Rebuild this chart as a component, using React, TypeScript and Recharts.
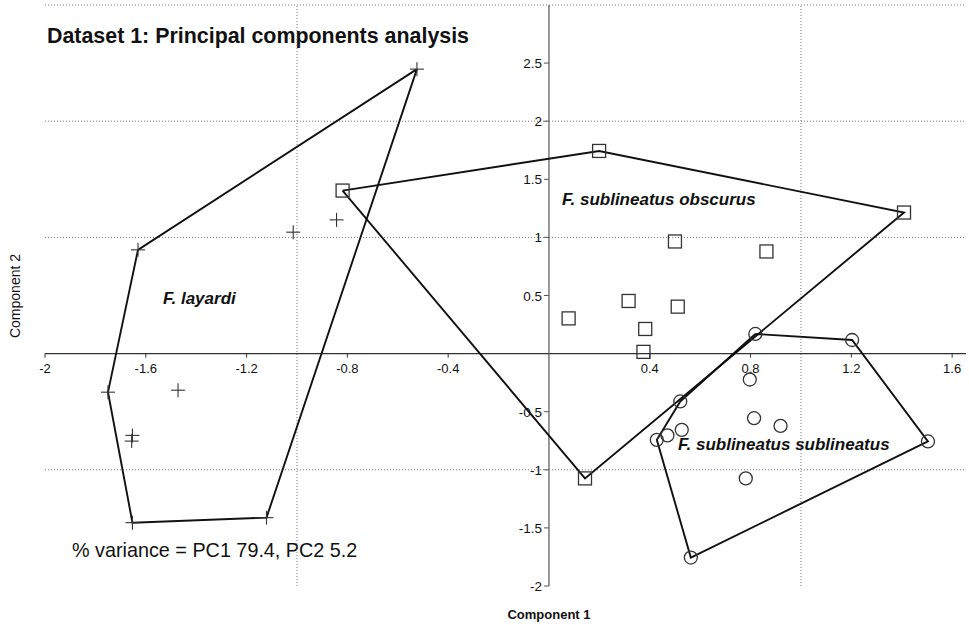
import React from 'react';
import { ScatterChart, Scatter, XAxis, YAxis, ReferenceLine, ReferenceDot, Customized } from 'recharts';

// ---- data ----
const layardiPoints = [
  { x: -0.524, y: 2.448 },
  { x: -1.631, y: 0.893 },
  { x: -1.015, y: 1.045 },
  { x: -0.843, y: 1.151 },
  { x: -1.75, y: -0.332 },
  { x: -1.472, y: -0.315 },
  { x: -1.653, y: -0.704 },
  { x: -1.656, y: -0.753 },
  { x: -1.653, y: -1.455 },
  { x: -1.121, y: -1.412 },
];
const layardiHull = [
  { x: -0.524, y: 2.448 },
  { x: -1.631, y: 0.893 },
  { x: -1.75, y: -0.332 },
  { x: -1.653, y: -1.455 },
  { x: -1.121, y: -1.412 },
  { x: -0.524, y: 2.448 },
];

const obscurusPoints = [
  { x: -0.819, y: 1.403 },
  { x: 0.199, y: 1.744 },
  { x: 1.409, y: 1.214 },
  { x: 0.5, y: 0.965 },
  { x: 0.863, y: 0.879 },
  { x: 0.316, y: 0.453 },
  { x: 0.511, y: 0.404 },
  { x: 0.078, y: 0.303 },
  { x: 0.382, y: 0.212 },
  { x: 0.375, y: 0.015 },
  { x: 0.143, y: -1.074 },
];
const obscurusHull = [
  { x: -0.819, y: 1.403 },
  { x: 0.199, y: 1.744 },
  { x: 1.409, y: 1.214 },
  { x: 0.143, y: -1.074 },
  { x: -0.819, y: 1.403 },
];

const sublineatusPoints = [
  { x: 0.819, y: 0.169 },
  { x: 1.203, y: 0.117 },
  { x: 0.797, y: -0.223 },
  { x: 0.521, y: -0.412 },
  { x: 0.814, y: -0.556 },
  { x: 0.919, y: -0.622 },
  { x: 0.527, y: -0.656 },
  { x: 0.47, y: -0.704 },
  { x: 0.428, y: -0.742 },
  { x: 1.504, y: -0.756 },
  { x: 0.781, y: -1.074 },
  { x: 0.563, y: -1.755 },
];
const sublineatusHull = [
  { x: 0.819, y: 0.169 },
  { x: 1.203, y: 0.117 },
  { x: 1.504, y: -0.756 },
  { x: 0.563, y: -1.755 },
  { x: 0.428, y: -0.742 },
  { x: 0.521, y: -0.412 },
  { x: 0.819, y: 0.169 },
];

const xTicks = [-2, -1.6, -1.2, -0.8, -0.4, 0.4, 0.8, 1.2, 1.6];
const xTickLabels = ['-2', '-1.6', '-1.2', '-0.8', '-0.4', '0.4', '0.8', '1.2', '1.6'];
const yTicks = [-2, -1.5, -1, -0.5, 0.5, 1, 1.5, 2, 2.5];
const yTickLabels = ['-2', '-1.5', '-1', '-0.5', '0.5', '1', '1.5', '2', '2.5'];
const hGrid = [3, 2, 1, -1];
const vGrid = [-1, 1];

const titleText = 'Dataset 1: Principal components analysis';
const varianceText = '% variance = PC1 79.4, PC2 5.2';
const xTitle = 'Component 1';
const yTitle = 'Component 2';
const groupLabels = ['F. layardi', 'F. sublineatus obscurus', 'F. sublineatus sublineatus'];

const W = 969;
const H = 625;
const FONT = '"Liberation Sans", Arial, Helvetica, sans-serif';
const MARK = '#333';
const HULL = '#111';

const Cross = (p: any) => (
  <g stroke={MARK} strokeWidth={1.1}>
    <line x1={p.cx - 7} y1={p.cy} x2={p.cx + 7} y2={p.cy} />
    <line x1={p.cx} y1={p.cy - 7} x2={p.cx} y2={p.cy + 7} />
  </g>
);
const Square = (p: any) => (
  <rect x={p.cx - 6.5} y={p.cy - 6.5} width={13} height={13} fill="none" stroke={MARK} strokeWidth={1.3} />
);
const Circle = (p: any) => <circle cx={p.cx} cy={p.cy} r={6.5} fill="none" stroke={MARK} strokeWidth={1.3} />;
const NoShape = () => <g />;

const Annotations = () => (
  <g fontFamily={FONT}>
    <text x={47} y={42.5} fontSize={21.4} fontWeight="bold" fill="#111">{titleText}</text>
    <text x={72} y={556.5} fontSize={19.8} fill="#111">{varianceText}</text>
    <text x={163} y={304} fontSize={17} fontWeight="bold" fontStyle="italic" fill="#111">{groupLabels[0]}</text>
    <text x={562} y={204.5} fontSize={17} fontWeight="bold" fontStyle="italic" fill="#111">{groupLabels[1]}</text>
    <text x={678} y={450} fontSize={17} fontWeight="bold" fontStyle="italic" fill="#111">{groupLabels[2]}</text>
    <text x={549} y={618.5} fontSize={13} fontWeight="bold" textAnchor="middle" fill="#111">{xTitle}</text>
    <text x={20} y={296} fontSize={14} textAnchor="middle" fill="#111" transform="rotate(-90, 20, 296)">{yTitle}</text>
  </g>
);

export default function App() {
  return (
    <div style={{ position: 'absolute', left: 0, top: 0, width: W, height: H, background: '#fff' }}>
      <ScatterChart width={W} height={H} margin={{ top: 5, right: 3, bottom: 39, left: 45 }}>
        <XAxis type="number" dataKey="x" domain={[-2, 1.655]} hide allowDataOverflow />
        <YAxis type="number" dataKey="y" domain={[-2, 3]} hide allowDataOverflow />
        {hGrid.map((v) => (
          <ReferenceLine key={'h' + v} y={v} stroke="#777" strokeDasharray="1 2" strokeWidth={1} />
        ))}
        {vGrid.map((v) => (
          <ReferenceLine key={'v' + v} x={v} stroke="#777" strokeDasharray="1 2" strokeWidth={1} />
        ))}
        <ReferenceLine y={0} stroke="#333" strokeWidth={1.2} />
        <ReferenceLine x={0} stroke="#555" strokeWidth={1.2} />
        {xTicks.map((t, i) => (
          <ReferenceDot
            key={'xt' + t}
            x={t}
            y={0}
            r={0}
            shape={(p: any) => (
              <g>
                <line x1={p.cx} y1={p.cy} x2={p.cx} y2={p.cy + 4} stroke="#333" strokeWidth={1} />
                <text x={p.cx} y={p.cy + 19} textAnchor="middle" fontSize={13} fontFamily={FONT} fill="#111">
                  {xTickLabels[i]}
                </text>
              </g>
            )}
          />
        ))}
        {yTicks.map((t, i) => (
          <ReferenceDot
            key={'yt' + t}
            x={0}
            y={t}
            r={0}
            shape={(p: any) => (
              <g>
                <line x1={p.cx - 5} y1={p.cy} x2={p.cx} y2={p.cy} stroke="#555" strokeWidth={1} />
                <text x={p.cx - 7} y={p.cy + 5} textAnchor="end" fontSize={13.5} fontFamily={FONT} fill="#111">
                  {yTickLabels[i]}
                </text>
              </g>
            )}
          />
        ))}
        <Scatter data={layardiHull} line={{ stroke: HULL, strokeWidth: 1.9 }} shape={NoShape} isAnimationActive={false} />
        <Scatter data={obscurusHull} line={{ stroke: HULL, strokeWidth: 1.9 }} shape={NoShape} isAnimationActive={false} />
        <Scatter data={sublineatusHull} line={{ stroke: HULL, strokeWidth: 1.9 }} shape={NoShape} isAnimationActive={false} />
        <Scatter data={layardiPoints} shape={Cross} isAnimationActive={false} />
        <Scatter data={obscurusPoints} shape={Square} isAnimationActive={false} />
        <Scatter data={sublineatusPoints} shape={Circle} isAnimationActive={false} />
        <Customized component={Annotations} />
      </ScatterChart>
    </div>
  );
}
